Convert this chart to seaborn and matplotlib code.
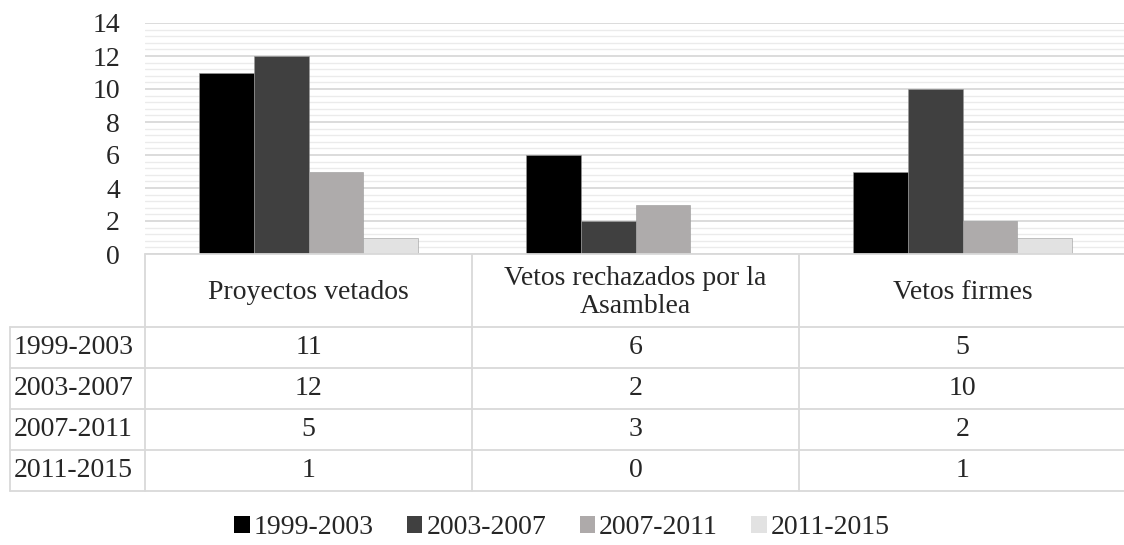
import pandas as pd
import seaborn as sns
import matplotlib
matplotlib.use('Agg')
import matplotlib.pyplot as plt
from matplotlib.ticker import MultipleLocator
from matplotlib.patches import Patch

# --- DATA ---
categorias = ['Proyectos vetados', 'Vetos rechazados por la\nAsamblea', 'Vetos firmes']
periodos = ['1999-2003', '2003-2007', '2007-2011', '2011-2015']
v_1999 = [11, 6, 5]
v_2003 = [12, 2, 10]
v_2007 = [5, 3, 2]
v_2011 = [1, 0, 1]
colores = ['#000000', '#404040', '#aeaaaa', '#e2e2e2']

series = [v_1999, v_2003, v_2007, v_2011]
df = pd.DataFrame([
    {'categoria': c, 'periodo': p, 'valor': vals[i]}
    for p, vals in zip(periodos, series)
    for i, c in enumerate(categorias)
])

# --- LAYOUT (pixels) ---
W, H = 1124, 545
LEFT, RIGHT, TOP, BOTTOM = 145, 1126, 23, 254
HEADER_BOTTOM = 327
ROW_H = 41
TABLE_LEFT = 10
GRID = '#d9d9d9'

sns.set_style('white')
plt.rcParams['font.family'] = ['Liberation Serif', 'DejaVu Serif']
FS = 20

fig = plt.figure(figsize=(W / 100, H / 100), dpi=100)
ax = fig.add_axes([LEFT / W, 1 - BOTTOM / H, (RIGHT - LEFT) / W, (BOTTOM - TOP) / H])

sns.barplot(data=df, x='categoria', y='valor', hue='periodo', palette=colores,
            width=0.67, edgecolor='#9a9a9a', linewidth=0.4, legend=False, ax=ax)

ax.set_xlim(-0.5, len(categorias) - 0.5)
ax.set_ylim(0, 14)
ax.yaxis.set_major_locator(MultipleLocator(2))
ax.yaxis.set_minor_locator(MultipleLocator(0.4))
ax.set_axisbelow(True)
ax.grid(which='major', axis='y', color=GRID, lw=1.3)
ax.grid(which='minor', axis='y', color='#ebebeb', lw=1.0)
ax.tick_params(axis='y', which='both', length=0, pad=18, labelsize=FS)
ax.set_xticks([])
ax.set_xlabel('')
ax.set_ylabel('')
for s in ax.spines.values():
    s.set_visible(False)

# --- DATA TABLE ---
tab = fig.add_axes([0, 0, 1, 1])
tab.set_xlim(0, W)
tab.set_ylim(H, 0)
tab.axis('off')
tab.patch.set_alpha(0)

col_w = (RIGHT - LEFT) / len(categorias)
n_rows = len(periodos)
table_bottom = HEADER_BOTTOM + n_rows * ROW_H

# horizontal lines
tab.plot([LEFT, RIGHT], [BOTTOM, BOTTOM], color=GRID, lw=1.3)
for r in range(n_rows + 1):
    y = HEADER_BOTTOM + r * ROW_H
    tab.plot([TABLE_LEFT, RIGHT], [y, y], color=GRID, lw=1.3)
# vertical lines
tab.plot([TABLE_LEFT, TABLE_LEFT], [HEADER_BOTTOM, table_bottom], color=GRID, lw=1.3)
for c in range(len(categorias)):
    x = LEFT + c * col_w
    tab.plot([x, x], [BOTTOM, table_bottom], color=GRID, lw=1.3)

# header texts
for c, cat in enumerate(categorias):
    tab.text(LEFT + (c + 0.5) * col_w, (BOTTOM + HEADER_BOTTOM) / 2 + 2, cat,
             ha='center', va='center', fontsize=FS, linespacing=1.2)

# rows
for r, (p, vals) in enumerate(zip(periodos, series)):
    yc = HEADER_BOTTOM + (r + 0.5) * ROW_H
    tab.text(TABLE_LEFT + 4, yc, p, ha='left', va='center', fontsize=FS)
    for c, v in enumerate(vals):
        tab.text(LEFT + (c + 0.5) * col_w, yc, str(v), ha='center', va='center', fontsize=FS)

# --- LEGEND ---
handles = [Patch(facecolor=col, edgecolor='none', label=p) for p, col in zip(periodos, colores)]
fig.legend(handles=handles, loc='center', bbox_to_anchor=(0.5, 1 - 528 / H), ncol=4,
           frameon=False, fontsize=FS, handlelength=0.55, handleheight=0.55,
           handletextpad=0.15, columnspacing=1.2, borderaxespad=0)

fig.savefig('out.png', dpi=100)
